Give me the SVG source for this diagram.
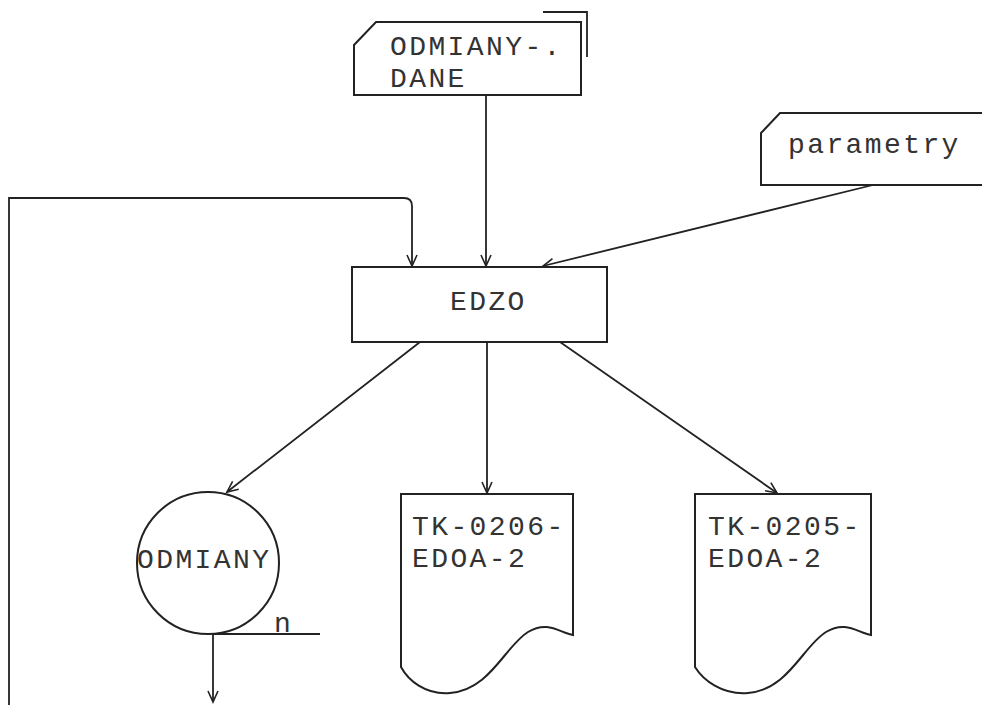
<svg xmlns="http://www.w3.org/2000/svg" width="982" height="705" viewBox="0 0 982 705">
<style>
.sh{fill:#fff;stroke:#222;stroke-width:2}
.ln{fill:none;stroke:#222;stroke-width:1.8}
.t{font-family:"Liberation Mono","DejaVu Sans Mono",monospace;font-size:28px;letter-spacing:2.4px;fill:#333}
</style>
<defs>
<marker id="ah" markerUnits="userSpaceOnUse" markerWidth="14" markerHeight="14" refX="12" refY="6" orient="auto">
<path d="M1,1 L12,6 L1,11" fill="none" stroke="#222" stroke-width="1.6"/>
</marker>
</defs>
<rect width="982" height="705" fill="#fff"/>
<g id="connectors">
<path class="ln" d="M9,705 V198 H404 Q412,198 412,206 V266" marker-end="url(#ah)"/>
<path class="ln" d="M486,95 V266" marker-end="url(#ah)"/>
<path class="ln" d="M873,185 L543,266" marker-end="url(#ah)"/>
<path class="ln" d="M420,342 L227,492" marker-end="url(#ah)"/>
<path class="ln" d="M487,342 V493" marker-end="url(#ah)"/>
<path class="ln" d="M560,342 L777,493" marker-end="url(#ah)"/>
<path class="ln" d="M213,634 V702" marker-end="url(#ah)"/>
</g>
<g id="odmiany-dane">
<path class="sh" d="M354,45 L376,22 H581 V95 H354 Z"/>
<path class="ln" d="M543,12 H587 V57"/>
<text class="t" x="390" y="55">ODMIANY-.</text>
<text class="t" x="390" y="87">DANE</text>
</g>
<g id="parametry">
<path class="sh" d="M761,133 L780,113 H990 V185 H761 Z"/>
<text class="t" x="788" y="153">parametry</text>
</g>
<g id="edzo">
<rect class="sh" x="352" y="267" width="255" height="75"/>
<text class="t" x="450" y="310">EDZO</text>
</g>
<g id="odmiany">
<circle class="sh" cx="208" cy="563" r="71"/>
<path class="ln" d="M213,634 H320"/>
<text class="t" x="137" y="568">ODMIANY</text>
<text class="t" x="274" y="632">n</text>
</g>
<g id="tk-0206">
<path class="sh" d="M401,494 H573 V635 C560,633 548,620 528,632 C505,646 490,690 450,693 C425,695 408,680 401,667 Z"/>
<text class="t" x="412" y="535">TK-0206-</text>
<text class="t" x="412" y="567">EDOA-2</text>
</g>
<g id="tk-0205">
<path class="sh" d="M695,494 H871 V635 C858,633 846,620 826,632 C803,646 788,690 748,693 C722,695 703,680 695,667 Z"/>
<text class="t" x="708" y="535">TK-0205-</text>
<text class="t" x="708" y="567">EDOA-2</text>
</g>
</svg>
